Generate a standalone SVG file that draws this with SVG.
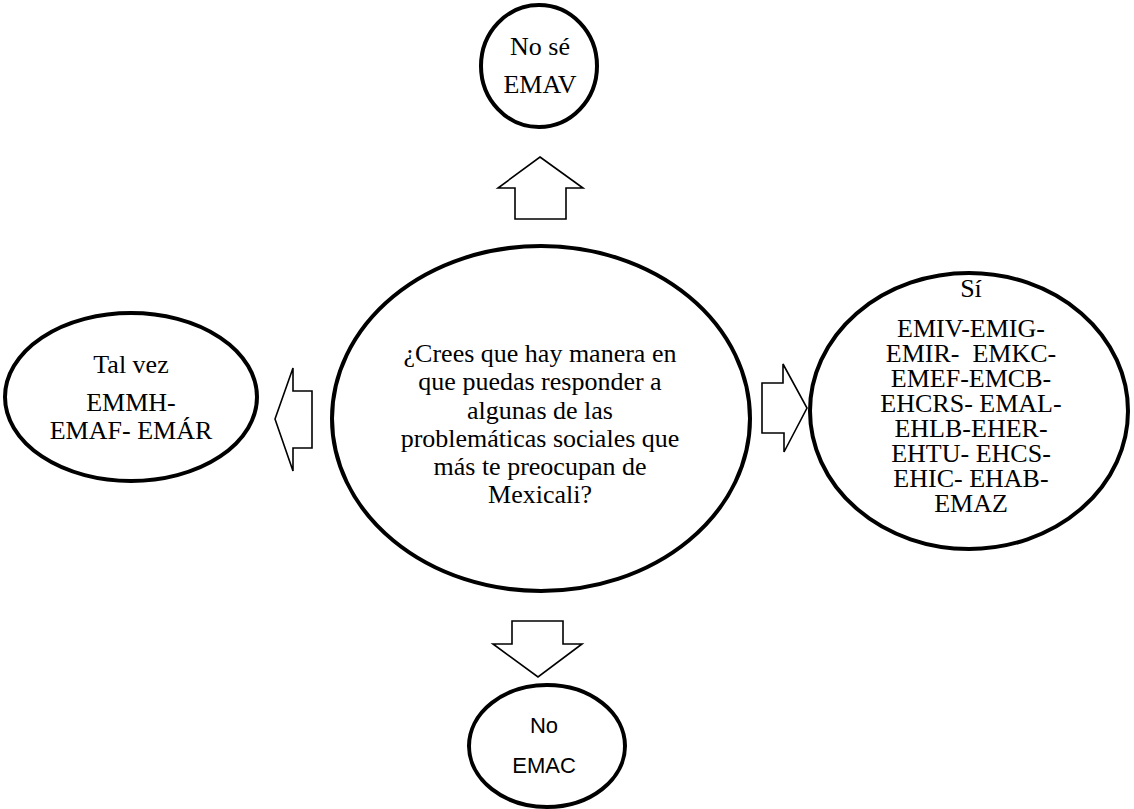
<svg xmlns="http://www.w3.org/2000/svg" width="1134" height="809" viewBox="0 0 1134 809">
<style>
.node{fill:#fff;stroke:#000;stroke-width:4}
.arr{fill:#fff;stroke:#000;stroke-width:1.6;stroke-linejoin:miter}
.t{font-family:"Liberation Serif","Times New Roman",serif;font-size:26px;fill:#000;text-anchor:middle}
.s{font-family:"Liberation Sans",Arial,sans-serif;font-size:22px;fill:#000;text-anchor:middle}
</style>
<rect width="1134" height="809" fill="#fff"/>
<g id="connectors">
<polygon class="arr" points="540,157 583,188 566,188 566,219 515,219 515,188 498,188"/>
<polygon class="arr" points="275,419 293,368 293,391 312,391 312,448 293,448 293,471"/>
<polygon class="arr" points="762,383 783,383 783,364 807,408 784,452 784,433 762,433"/>
<polygon class="arr" points="512,621 563,621 563,644 582,644 538,677 493,644 512,644"/>
</g>
<g id="center">
<ellipse class="node" cx="541" cy="418.5" rx="209" ry="172.5"/>
<text class="t" x="540" y="362">¿Crees que hay manera en</text>
<text class="t" x="540" y="390">que puedas responder a</text>
<text class="t" x="540" y="419">algunas de las</text>
<text class="t" x="540" y="447">problemáticas sociales que</text>
<text class="t" x="540" y="475">más te preocupan de</text>
<text class="t" x="540" y="503">Mexicali?</text>
</g>
<g id="nose">
<ellipse class="node" cx="539" cy="66" rx="58" ry="61"/>
<text class="t" x="540" y="55">No sé</text>
<text class="t" x="540" y="93">EMAV</text>
</g>
<g id="talvez">
<ellipse class="node" cx="131" cy="397" rx="126" ry="84"/>
<text class="t" x="131" y="373">Tal vez</text>
<text class="t" x="131" y="411">EMMH-</text>
<text class="t" x="131" y="439">EMAF- EMÁR</text>
</g>
<g id="si">
<ellipse class="node" cx="969" cy="411" rx="159" ry="138"/>
<text class="t" x="971" y="297">Sí</text>
<text class="t" x="971" y="337">EMIV-EMIG-</text>
<text class="t" x="971" y="362" xml:space="preserve">EMIR-  EMKC-</text>
<text class="t" x="971" y="387">EMEF-EMCB-</text>
<text class="t" x="971" y="412">EHCRS- EMAL-</text>
<text class="t" x="971" y="437">EHLB-EHER-</text>
<text class="t" x="971" y="462">EHTU- EHCS-</text>
<text class="t" x="971" y="487">EHIC- EHAB-</text>
<text class="t" x="971" y="512">EMAZ</text>
</g>
<g id="no">
<ellipse class="node" cx="547" cy="746" rx="78" ry="61"/>
<text class="s" x="544" y="733">No</text>
<text class="s" x="544" y="773">EMAC</text>
</g>
</svg>
